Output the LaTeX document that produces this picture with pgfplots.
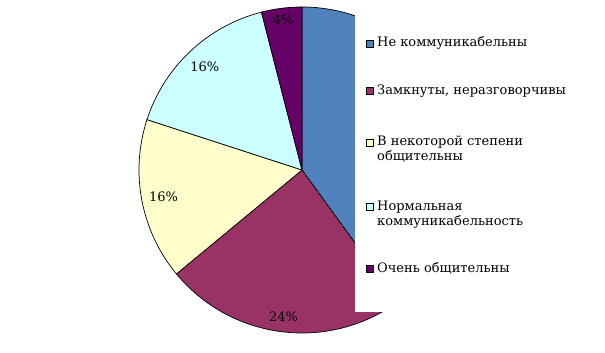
\documentclass[border=0pt]{standalone}
\usepackage{fontspec}
\setmainfont{DejaVu Serif}
\usepackage{pgfplots}
\pgfplotsset{compat=1.18}
\definecolor{cblue}{RGB}{79,129,189}
\definecolor{cred}{RGB}{153,51,102}
\definecolor{cyel}{RGB}{255,255,204}
\definecolor{ccyan}{RGB}{204,255,255}
\definecolor{cpur}{RGB}{102,0,102}
\begin{document}
\begin{tikzpicture}
\begin{axis}[hide axis, scale only axis, width=605pt, height=340pt,
  xmin=0, xmax=605, ymin=0, ymax=340, clip=false]
\addplot[draw=none] coordinates {(0,0) (605,340)};
\xdef\cum{90}
\foreach \v/\c/\lr/\show in {40/cblue/145/0, 24/cred/148/1, 16/cyel/141/1, 16/ccyan/142/1, 4/cpur/151/1} {
  \pgfmathsetmacro\a{\cum}
  \pgfmathsetmacro\b{\cum-\v*3.6}
  \pgfmathsetmacro\m{(\a+\b)/2}
  \pgfmathsetmacro\lx{302+\lr*cos(\m)}
  \pgfmathsetmacro\ly{170+\lr*sin(\m)}
  \edef\temp{\noexpand\filldraw[fill=\c, draw=black, line width=0.7pt, line join=round]
    (axis cs:302,170) -- ++(\a:163pt) arc[start angle=\a, end angle=\b, radius=163pt] -- cycle;}
  \temp
  \ifnum\show=1
    \edef\temp{\noexpand\node[font=\noexpand\fontsize{13}{15}\noexpand\selectfont, inner sep=0pt] at (axis cs:\lx,\ly) {\v\noexpand\%};}
    \temp
  \fi
  \xdef\cum{\b}
}
% legend
\fill[white] (axis cs:355,28) rectangle (axis cs:577,340);
\foreach \yc/\c in {43.5/cblue, 91/cred, 142.5/cyel, 207/ccyan, 269/cpur} {
  \edef\temp{\noexpand\filldraw[fill=\c, draw=black, line width=0.7pt]
    (axis cs:366.5,{340-\yc+3.5}) rectangle (axis cs:373.5,{340-\yc-3.5});}
  \temp
}
\begin{scope}[every node/.style={anchor=base west, inner sep=0pt, font=\fontsize{13}{15}\selectfont}]
\node at (axis cs:377,{340-47}) {Не коммуникабельны};
\node at (axis cs:377,{340-95}) {Замкнуты, неразговорчивы};
\node at (axis cs:377,{340-146}) {В некоторой степени};
\node at (axis cs:377,{340-161}) {общительны};
\node at (axis cs:377,{340-211}) {Нормальная};
\node at (axis cs:377,{340-226}) {коммуникабельность};
\node at (axis cs:377,{340-273}) {Очень общительны};
\end{scope}
\end{axis}
\end{tikzpicture}
\end{document}
